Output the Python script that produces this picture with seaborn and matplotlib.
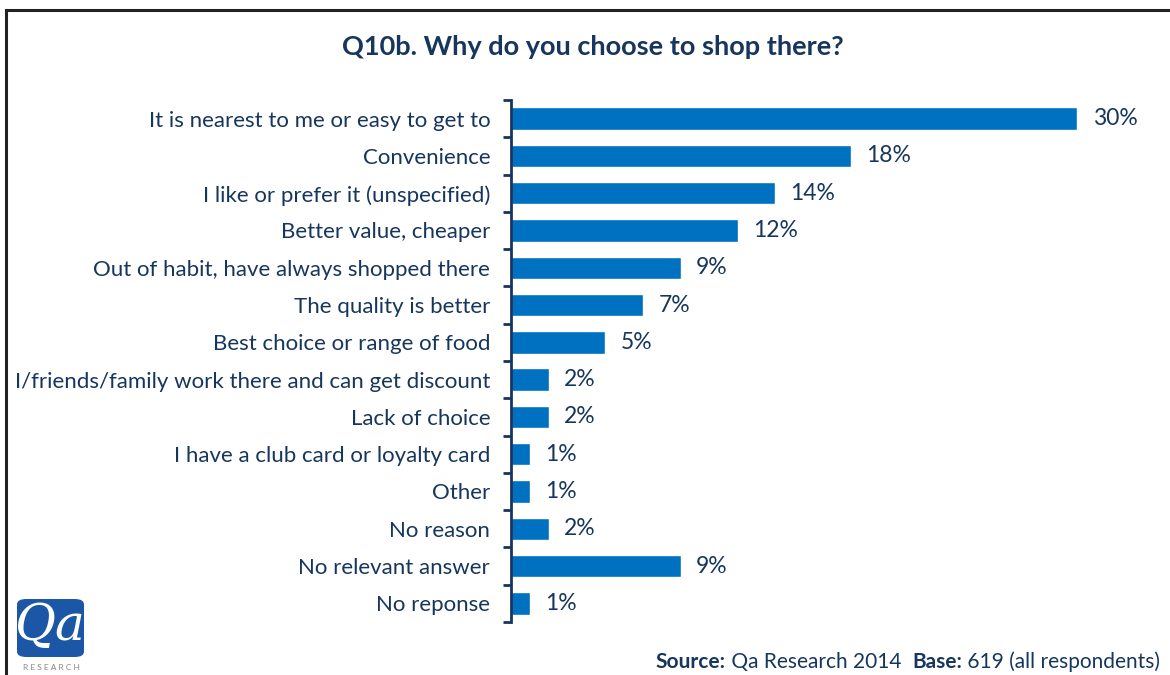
import matplotlib
matplotlib.use("Agg")
import matplotlib.pyplot as plt
from matplotlib.patches import Rectangle, FancyBboxPatch
import seaborn as sns
import pandas as pd

reasons = [
    "It is nearest to me or easy to get to",
    "Convenience",
    "I like or prefer it (unspecified)",
    "Better value, cheaper",
    "Out of habit, have always shopped there",
    "The quality is better",
    "Best choice or range of food",
    "I/friends/family work there and can get discount",
    "Lack of choice",
    "I have a club card or loyalty card",
    "Other",
    "No reason",
    "No relevant answer",
    "No reponse",
]
shares = [30, 18, 14, 12, 9, 7, 5, 2, 2, 1, 1, 2, 9, 1]

title = "Q10b. Why do you choose to shop there?"
source_parts = [("Source:", "bold"), (" Qa Research 2014  ", "normal"),
                ("Base:", "bold"), (" 619 (all respondents)", "normal")]

NAVY = "#17365D"
BAR = "#0070C0"

sns.set_theme(style="white")
plt.rcParams["font.family"] = ["Lato", "DejaVu Sans"]

df = pd.DataFrame({"reason": reasons, "share": shares})

fig = plt.figure(figsize=(11.7, 6.75), dpi=100)
W, H = 1170, 675
ax = fig.add_axes([511 / W, 1 - 622 / H, (1115 - 511) / W, (622 - 100) / H])

sns.barplot(data=df, x="share", y="reason", color=BAR, saturation=1,
            width=0.6, ax=ax, orient="h")

ax.set_xlim(0, 32)
ax.set_ylim(len(reasons) - 0.5, -0.5)
ax.set_xlabel("")
ax.set_ylabel("")
ax.set_xticks([])

for s in ["top", "right", "bottom"]:
    ax.spines[s].set_visible(False)
ax.spines["left"].set_color(NAVY)
ax.spines["left"].set_linewidth(2)

ax.tick_params(axis="y", which="major", length=0, pad=15,
               labelsize=16, labelcolor=NAVY)
ax.set_yticks([i + 0.5 for i in range(-1, len(reasons))], minor=True)
ax.tick_params(axis="y", which="minor", length=6, width=2, color=NAVY,
               direction="out", left=True)

for i, v in enumerate(shares):
    ax.annotate(f"{v}%", xy=(v, i), xytext=(11, 0), textcoords="offset points",
                va="center", ha="left", fontsize=16.5, color=NAVY,
                annotation_clip=False)

fig.text(593 / W, 1 - 47 / H, title, ha="center", va="center",
         fontsize=19.5, fontweight="bold", color=NAVY)

# source line, laid out right to left
fig.canvas.draw()
renderer = fig.canvas.get_renderer()
x_right = 1160 / W
for txt, weight in reversed(source_parts):
    t = fig.text(x_right, 1 - 662 / H, txt, ha="right", va="center",
                 fontsize=15, fontweight=weight, color=NAVY)
    bb = t.get_window_extent(renderer)
    x_right -= bb.width / W

# outer frame
fig.patches.append(Rectangle((6 / W, -0.05), 1.2, 1 - 10 / H + 0.05,
                             transform=fig.transFigure, fill=False,
                             edgecolor="#222222", linewidth=2.2))

# logo badge
fig.patches.append(FancyBboxPatch((17 / W, 1 - 657 / H), 67 / W, 58 / H,
                                  boxstyle="round,pad=0,rounding_size=0.008",
                                  transform=fig.transFigure,
                                  facecolor="#1C56A6", edgecolor="none"))
fig.text(50 / W, 1 - 626 / H, "Qa", ha="center", va="center",
         fontsize=36, color="white", family="DejaVu Serif", style="italic")
fig.text(51 / W, 1 - 667 / H, "R E S E A R C H", ha="center", va="center",
         fontsize=6, color="#888888")

fig.savefig("out.png", dpi=100, facecolor="white")
